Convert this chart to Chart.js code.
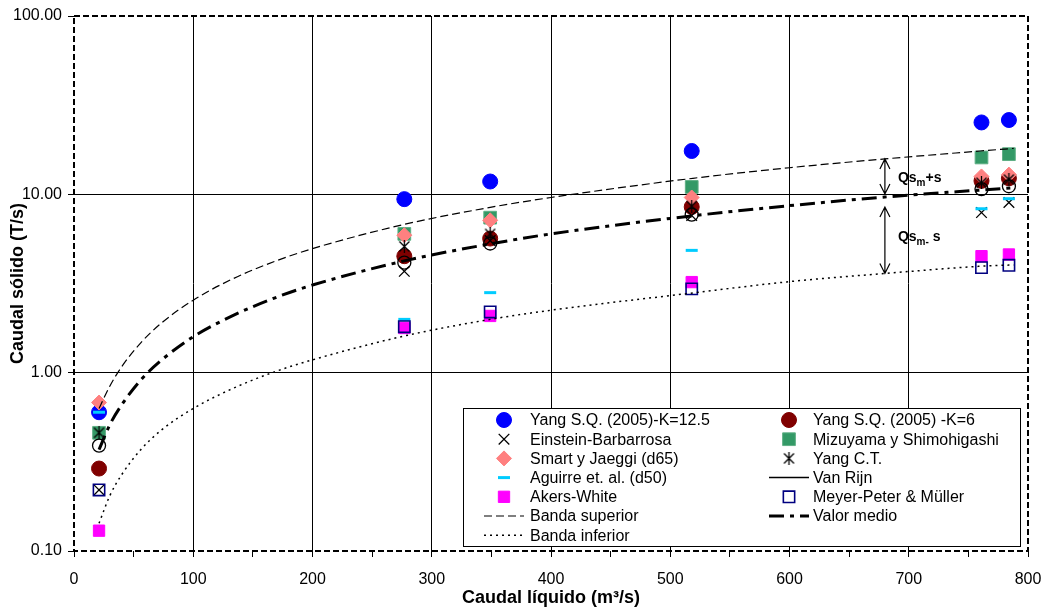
<!DOCTYPE html>
<html>
<head>
<meta charset="utf-8">
<script src="https://cdn.jsdelivr.net/npm/chart.js@4/dist/chart.umd.min.js"></script>
<style>
  html, body { margin: 0; padding: 0; background: #fff; }
  #wrap { width: 1045px; height: 610px; }
</style>
</head>
<body>
<div id="wrap"><canvas id="sedChart" width="1045" height="610"></canvas></div>
<script>
// caudal líquido (m3/s) de cada aforo
const caudalLiquido = [21, 277, 349, 518, 761, 784];

// caudal sólido (T/s) calculado con cada fórmula
const yangK125    = [0.60, 9.4, 11.8, 17.5, 25.3, 26.1];
const yangK6      = [0.29, 4.5, 5.65, 8.5, 11.9, 12.3];
const einstein    = [0.22, 3.7, 5.5, 7.6, 7.9, 9.0];
const mizuyama    = [0.46, 6.0, 7.4, 11.0, 16.1, 16.8];
const smartJaeggi = [0.68, 5.9, 7.15, 9.6, 12.6, 12.9];
const yangCT      = [0.46, 5.1, 6.0, 8.6, 11.6, 12.1];
const aguirre     = [0.60, 1.99, 2.81, 4.85, 8.3, 9.45];
const vanRijn     = [0.39, 4.14, 5.3, 7.7, 10.7, 11.1];
const akersWhite  = [0.13, 1.78, 2.08, 3.22, 4.5, 4.6];
const meyerPeter  = [0.22, 1.81, 2.19, 2.95, 3.88, 4.0];

// valor medio y bandas (media ± desviación)
const caudalCurva   = [21, 30, 40, 56, 73, 100, 134, 168, 200, 276, 349, 400, 519, 600, 680, 760, 788];
const bandaSuperior = [0.63, 0.84, 1.08, 1.47, 1.89, 2.55, 3.38, 4.20, 4.96, 6.76, 8.45, 9.6, 12.3, 14.1, 15.8, 17.5, 18.1];
const valorMedio    = [0.37, 0.51, 0.66, 0.91, 1.17, 1.59, 2.10, 2.62, 3.10, 4.22, 5.27, 6.0, 7.58, 8.64, 9.66, 10.56, 10.87];
const bandaInferior = [0.143, 0.204, 0.268, 0.370, 0.475, 0.63, 0.82, 1.01, 1.18, 1.60, 1.99, 2.24, 2.80, 3.24, 3.60, 3.95, 4.02];

const yTicks = [0.1, 1, 10, 100];
const xMin = 0, xMax = 800, xStep = 50, xLabelStep = 100;
const cotaCaudal = 680; // donde se acotan las bandas

const FONT = "'Liberation Sans', Arial, sans-serif";

// marcador tipo asterisco (X con trazo vertical)
function makeStar(size) {
  const c = document.createElement('canvas');
  c.width = size; c.height = size;
  const g = c.getContext('2d');
  g.strokeStyle = '#000';
  g.lineWidth = 1.3;
  const m = 1.5;
  g.beginPath();
  g.moveTo(m, m); g.lineTo(size - m, size - m);
  g.moveTo(size - m, m); g.lineTo(m, size - m);
  g.moveTo(size / 2, 0); g.lineTo(size / 2, size);
  g.stroke();
  return c;
}
const starMark = makeStar(13);

function pts(xs, ys) {
  return xs.map((x, i) => ({ x: x, y: ys[i] }));
}

function serie(label, ys, style) {
  return Object.assign({
    label: label,
    data: pts(caudalLiquido, ys),
    showLine: false,
    borderWidth: 1,
    pointHoverRadius: 0
  }, style);
}

function curva(label, ys, dash, width) {
  return {
    label: label,
    data: pts(caudalCurva, ys),
    showLine: true,
    fill: false,
    borderColor: '#000',
    borderWidth: width,
    borderDash: dash,
    pointRadius: 0,
    cubicInterpolationMode: 'monotone'
  };
}

const datasets = [
  serie('Yang S.Q. (2005)-K=12.5', yangK125, { pointStyle: 'circle', pointRadius: 7.5, backgroundColor: '#0000FF', borderColor: '#0000FF' }),
  serie('Yang S.Q. (2005) -K=6', yangK6, { pointStyle: 'circle', pointRadius: 7.5, backgroundColor: '#800000', borderColor: '#800000' }),
  serie('Einstein-Barbarrosa', einstein, { pointStyle: 'crossRot', pointRadius: 7.5, backgroundColor: '#000', borderColor: '#000', borderWidth: 1.3 }),
  serie('Mizuyama y Shimohigashi', mizuyama, { pointStyle: 'rect', pointRadius: 9, backgroundColor: '#339966', borderColor: '#5FAF85' }),
  serie('Smart y Jaeggi (d65)', smartJaeggi, { pointStyle: 'rectRot', pointRadius: 7.5, backgroundColor: '#FF8080', borderColor: '#FF8080' }),
  serie('Yang C.T.', yangCT, { pointStyle: starMark, pointRadius: 7, backgroundColor: '#000', borderColor: '#000' }),
  serie('Aguirre et. al. (d50)', aguirre, { pointStyle: 'line', pointRadius: 6, backgroundColor: '#00CCFF', borderColor: '#00CCFF', borderWidth: 3 }),
  serie('Van Rijn', vanRijn, { pointStyle: 'circle', pointRadius: 6.5, backgroundColor: 'rgba(0,0,0,0)', borderColor: '#000', borderWidth: 1.3, legendLine: true }),
  serie('Akers-White', akersWhite, { pointStyle: 'rect', pointRadius: 8, backgroundColor: '#FF00FF', borderColor: '#FF00FF' }),
  serie('Meyer-Peter & Müller', meyerPeter, { pointStyle: 'rect', pointRadius: 8, backgroundColor: 'rgba(0,0,0,0)', borderColor: '#000080', borderWidth: 1.6 }),
  curva('Banda superior', bandaSuperior, [8, 4], 1.2),
  curva('Valor medio', valorMedio, [15, 6, 4, 6], 3),
  curva('Banda inferior', bandaInferior, [2, 4], 1.5)
];
// las series posteriores se pintan encima
datasets.forEach((d, i) => { d.order = 100 - i; });

// marco punteado del área de trazado
const plotFrame = {
  id: 'plotFrame',
  afterDatasetsDraw(chart) {
    const { ctx, chartArea: a } = chart;
    ctx.save();
    ctx.strokeStyle = '#000';
    ctx.lineWidth = 2;
    ctx.setLineDash([6, 3]);
    ctx.strokeRect(a.left, a.top, a.right - a.left, a.bottom - a.top);
    ctx.restore();
  }
};

// flechas y rótulos Qs_m+s / Qs_m- s
function arrow(ctx, x, y1, y2) {
  ctx.beginPath();
  ctx.moveTo(x, y1); ctx.lineTo(x, y2);
  ctx.moveTo(x - 5, y1 + 10); ctx.lineTo(x, y1); ctx.lineTo(x + 5, y1 + 10);
  ctx.moveTo(x - 5, y2 - 10); ctx.lineTo(x, y2); ctx.lineTo(x + 5, y2 - 10);
  ctx.stroke();
}

function subLabel(ctx, x, y, pre, sub, post) {
  ctx.font = 'bold 14px ' + FONT;
  ctx.fillText(pre, x, y);
  x += ctx.measureText(pre).width;
  ctx.font = 'bold 10px ' + FONT;
  ctx.fillText(sub, x, y + 4);
  x += ctx.measureText(sub).width;
  ctx.font = 'bold 14px ' + FONT;
  ctx.fillText(post, x, y);
}

const bandNotes = {
  id: 'bandNotes',
  afterDatasetsDraw(chart) {
    const { ctx, scales: { x, y } } = chart;
    const i = caudalCurva.indexOf(cotaCaudal);
    const px = x.getPixelForValue(cotaCaudal);
    const ySup = y.getPixelForValue(bandaSuperior[i]);
    const yMed = y.getPixelForValue(valorMedio[i]);
    const yInf = y.getPixelForValue(bandaInferior[i]);
    ctx.save();
    ctx.strokeStyle = '#000';
    ctx.fillStyle = '#000';
    ctx.lineWidth = 1.2;
    arrow(ctx, px, ySup, yMed - 3);
    arrow(ctx, px, yMed + 10, yInf);
    ctx.textBaseline = 'alphabetic';
    subLabel(ctx, px + 13, (ySup + yMed) / 2 + 4, 'Qs', 'm', '+s');
    subLabel(ctx, px + 13, (yMed + yInf) / 2 + 6, 'Qs', 'm-', ' s');
    ctx.restore();
  }
};

// leyenda en dos columnas dentro del área de trazado
const boxLegend = {
  id: 'boxLegend',
  afterDraw(chart) {
    const ctx = chart.ctx;
    const box = { x: 463, y: 408, w: 557, h: 138 };
    const rowY0 = 420, rowStep = 19.2;
    const markX = [504, 789], textX = [530, 813];
    ctx.save();
    ctx.fillStyle = '#fff';
    ctx.fillRect(box.x, box.y, box.w, box.h);
    ctx.strokeStyle = '#000';
    ctx.lineWidth = 1;
    ctx.setLineDash([]);
    ctx.strokeRect(box.x + 0.5, box.y + 0.5, box.w, box.h);
    chart.data.datasets.forEach((d, i) => {
      const col = i % 2, row = Math.floor(i / 2);
      const cy = rowY0 + row * rowStep;
      const cx = markX[col];
      ctx.save();
      if (d.showLine || d.legendLine) {
        ctx.strokeStyle = d.borderColor;
        ctx.lineWidth = d.showLine ? d.borderWidth : 1.5;
        ctx.setLineDash(d.showLine ? d.borderDash : []);
        ctx.beginPath();
        ctx.moveTo(cx - 20, cy);
        ctx.lineTo(cx + 20, cy);
        ctx.stroke();
      } else {
        ctx.fillStyle = d.backgroundColor;
        ctx.strokeStyle = d.borderColor;
        ctx.lineWidth = d.borderWidth;
        Chart.helpers.drawPoint(ctx, {
          pointStyle: d.pointStyle, radius: d.pointRadius, rotation: 0, borderWidth: d.borderWidth
        }, cx, cy);
      }
      ctx.restore();
      ctx.fillStyle = '#000';
      ctx.font = '16px ' + FONT;
      ctx.textBaseline = 'middle';
      ctx.fillText(d.label, textX[col], cy + 1);
    });
    ctx.restore();
  }
};

new Chart(document.getElementById('sedChart'), {
  type: 'scatter',
  data: { datasets: datasets },
  plugins: [plotFrame, bandNotes, boxLegend],
  options: {
    responsive: false,
    animation: false,
    devicePixelRatio: 1,
    events: [],
    layout: { padding: { top: 16, right: 17, left: 0, bottom: 0 } },
    plugins: { legend: { display: false }, tooltip: { enabled: false } },
    scales: {
      x: {
        type: 'linear',
        min: xMin, max: xMax,
        afterFit(s) { s.height = 59; s.paddingLeft = 0; s.paddingRight = 0; },
        ticks: {
          stepSize: xStep,
          autoSkip: false,
          maxRotation: 0,
          padding: 13,
          color: '#000',
          font: { family: FONT, size: 16 },
          callback: v => (v % xLabelStep === 0 ? String(v) : '')
        },
        grid: {
          color: c => (c.tick && c.tick.value % xLabelStep === 0 && c.tick.value !== xMin && c.tick.value !== xMax) ? '#000' : 'rgba(0,0,0,0)',
          tickColor: '#000',
          tickLength: 6,
          lineWidth: 1
        },
        border: { display: false },
        title: {
          display: true,
          text: 'Caudal líquido (m³/s)',
          color: '#000',
          font: { family: FONT, size: 18, weight: 'bold' },
          padding: { top: 0, bottom: 1 }
        }
      },
      y: {
        type: 'logarithmic',
        min: 0.1, max: 100,
        afterFit(s) { s.width = 74; s.paddingTop = 0; s.paddingBottom = 0; },
        afterBuildTicks(s) { s.ticks = yTicks.map(v => ({ value: v })); },
        ticks: {
          padding: 6,
          color: '#000',
          font: { family: FONT, size: 16 },
          callback: v => Number(v).toFixed(2)
        },
        grid: {
          color: c => (c.tick && c.tick.value > 0.1 && c.tick.value < 100) ? '#000' : 'rgba(0,0,0,0)',
          tickColor: '#000',
          tickLength: 6,
          lineWidth: 1
        },
        border: { display: false },
        title: {
          display: true,
          text: 'Caudal sólido (T/s)',
          color: '#000',
          font: { family: FONT, size: 18, weight: 'bold' },
          padding: { top: 7, bottom: 0 }
        }
      }
    }
  }
});
</script>
</body>
</html>
